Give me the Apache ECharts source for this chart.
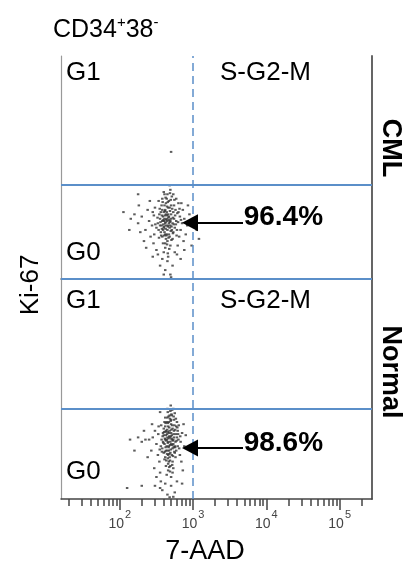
<!DOCTYPE html>
<html>
<head>
<meta charset="utf-8">
<script src="https://cdn.jsdelivr.net/npm/echarts@6/dist/echarts.min.js"></script>
<style>html,body{margin:0;padding:0;background:#fff;}#c{width:413px;height:568px;}</style>
</head>
<body>
<div id="c"></div>
<script>
// x values are log10(7-AAD), y values are Ki-67 position within each panel (0-100)
var panelNames = ['CML', 'Normal'];
var percentLabels = ['96.4%', '98.6%'];
var majorTicks = [2, 3, 4, 5];
var minorTicks = [1.301, 1.477, 1.602, 1.699, 1.778, 1.845, 1.903, 1.954,
  2.301, 2.477, 2.602, 2.699, 2.778, 2.845, 2.903, 2.954,
  3.301, 3.477, 3.602, 3.699, 3.778, 3.845, 3.903, 3.954,
  4.301, 4.477, 4.602, 4.699, 4.778, 4.845, 4.903, 4.954, 5.301];
var gateX = 3.0;
var gateY = [42.2, 40.9];
var arrowY = [25.2, 23.2];

var cmlPoints = [
[2.62,25],[2.64,27],[2.60,23],[2.66,24],[2.58,26],[2.63,29],[2.67,28],[2.61,21],[2.65,22],[2.69,26],
[2.57,24],[2.59,28],[2.68,23],[2.62,31],[2.70,29],[2.55,27],[2.64,20],[2.72,25],[2.66,32],[2.60,30],
[2.53,22],[2.71,22],[2.63,18],[2.58,19],[2.74,27],[2.56,30],[2.68,19],[2.73,30],[2.61,33],[2.67,35],
[2.52,25],[2.75,23],[2.65,17],[2.59,16],[2.70,33],[2.54,29],[2.77,26],[2.62,14],[2.69,15],[2.57,33],
[2.64,36],[2.76,31],[2.50,23],[2.72,18],[2.60,12],[2.66,10],[2.71,37],[2.58,36],[2.78,22],[2.63,24],
[2.65,26],[2.61,27],[2.67,25],[2.59,22],[2.69,24],[2.62,20],[2.64,30],[2.56,21],[2.73,21],[2.68,32],
[2.60,26],[2.66,29],[2.70,27],[2.58,31],[2.63,34],[2.55,24],[2.74,33],[2.62,16],[2.67,20],[2.65,38],
[2.635,26.5],[2.655,23.5],[2.615,28.5],[2.675,26.5],[2.595,24.5],[2.645,32.5],[2.685,30.5],[2.625,22.5],[2.705,23.5],[2.575,28.5],
[2.665,18.5],[2.715,31.5],[2.605,19.5],[2.735,24.5],[2.555,25.5],[2.695,35.5],[2.645,15.5],[2.755,28.5],[2.585,34.5],[2.625,36.5],
[2.725,20.5],[2.565,19.5],[2.675,13.5],[2.785,29.5],[2.545,31.5],[2.765,24.5],[2.615,30.5],[2.655,34.5],[2.695,21.5],[2.635,19.5],
[2.595,26.5],[2.745,35.5],[2.705,17.5],[2.575,22.5],[2.665,27.5],[2.685,25.5],[2.625,25.5],[2.645,28.5],[2.605,23.5],[2.725,27.5],
[2.515,27.5],[2.795,25.5],[2.815,31.5],[2.835,26.5],[2.485,24.5],[2.465,28.5],[2.535,18.5],[2.775,19.5],[2.655,11.5],[2.685,38.5],
[2.48,32],[2.60,39],[2.73,38],[2.80,34],[2.53,35],[2.69,40],[2.77,36],[2.45,30],
[2.82,28],[2.85,25],[2.80,30],[2.88,27],[2.83,22],[2.92,24],[2.86,31],[2.81,19],[2.95,29],[2.90,20],
[2.84,34],[2.97,25],[3.00,27],[2.87,17],[2.93,33],[2.79,15],[3.05,22],[3.08,18],[2.98,15],
[2.40,26],[2.35,22],[2.42,19],[2.30,28],[2.25,25],[2.38,31],[2.44,24],[2.33,17],[2.20,29],[2.47,20],
[2.28,21],[2.05,30],[2.15,27],[2.36,14],[2.46,16],[2.41,35],[2.26,33],[2.50,13],[2.13,22],
[2.65,8],[2.72,6],[2.58,9],[2.78,11],[2.62,4],[2.69,2],[2.75,12],[2.52,11],[2.83,9],[2.55,6],
[2.70,0.8],[2.88,13],[2.45,10],[2.60,2],
[2.70,57],[2.25,38],[2.61,38],[2.68,42]
];

var normalPoints = [
[2.66,26],[2.68,28],[2.64,24],[2.70,25],[2.62,27],[2.67,30],[2.71,29],[2.65,22],[2.69,21],[2.73,27],
[2.61,25],[2.63,31],[2.72,23],[2.66,33],[2.74,31],[2.60,29],[2.68,19],[2.76,26],[2.70,34],[2.64,35],
[2.58,23],[2.75,21],[2.67,17],[2.62,19],[2.78,28],[2.60,32],[2.72,17],[2.77,33],[2.65,37],[2.71,38],
[2.57,27],[2.79,24],[2.69,15],[2.63,15],[2.74,36],[2.59,30],[2.80,27],[2.66,13],[2.73,14],[2.61,35],
[2.68,38],[2.79,31],[2.56,24],[2.76,19],[2.64,11],[2.70,10],[2.75,39],[2.62,37],[2.81,23],[2.67,24],
[2.69,26],[2.65,28],[2.71,27],[2.63,22],[2.73,25],[2.66,20],[2.68,31],[2.60,21],[2.77,22],[2.72,32],
[2.64,27],[2.70,30],[2.74,28],[2.62,33],[2.67,35],[2.59,26],[2.78,35],[2.66,16],[2.71,20],[2.69,40],
[2.65,41],[2.73,41],[2.70,36],[2.63,29],[2.67,22],[2.75,24],[2.61,18],[2.72,12],
[2.665,27.5],[2.685,24.5],[2.645,29.5],[2.705,27.5],[2.625,23.5],[2.675,32.5],[2.715,33.5],[2.655,25.5],[2.695,22.5],[2.735,29.5],
[2.615,27.5],[2.655,34.5],[2.725,26.5],[2.665,37.5],[2.745,33.5],[2.605,30.5],[2.685,17.5],[2.765,29.5],[2.705,38.5],[2.645,20.5],
[2.595,25.5],[2.755,23.5],[2.675,14.5],[2.635,17.5],[2.785,32.5],[2.625,34.5],[2.715,15.5],[2.765,36.5],[2.655,39.5],[2.695,42.5],
[2.585,28.5],[2.775,26.5],[2.685,12.5],[2.645,31.5],[2.735,37.5],[2.615,21.5],[2.795,29.5],[2.675,20.5],[2.725,19.5],[2.635,26.5],
[2.695,35.5],[2.755,31.5],[2.575,21.5],[2.745,21.5],[2.665,23.5],[2.705,31.5],[2.675,28.5],[2.655,30.5],[2.715,24.5],[2.685,36.5],
[2.625,30.5],[2.735,23.5],[2.695,28.5],[2.655,18.5],[2.715,40.5],[2.565,33.5],[2.805,33.5],[2.825,28.5],[2.525,29.5],[2.545,22.5],
[2.83,26],[2.85,30],[2.82,20],[2.87,34],[2.84,17],[2.88,24],[2.90,29],[2.86,13],
[2.50,25],[2.45,28],[2.52,20],[2.40,27],[2.48,31],[2.54,17],[2.43,22],[2.35,27],[2.30,26],[2.25,28],
[2.14,27],[2.20,22],[2.47,14],[2.55,12],[2.38,19],[2.53,33],[2.44,34],[2.33,31],[2.56,8],[2.50,10],
[2.62,7],[2.70,6],[2.58,4],[2.75,3],[2.65,2],[2.78,8],[2.55,5],[2.48,6],[2.30,6],[2.10,5],
[2.85,7],[2.68,0.8],[2.73,1],
[2.55,39.5]
];

var XMIN = 1.198, XMAX = 5.441;
var FONT = 'Liberation Sans';
var BLUE = '#5b8fc9';

function panelMarkLine(i, withTop) {
  var data = [
    {yAxis: gateY[i], lineStyle: {color: BLUE, width: 2, type: 'solid'}},
    {xAxis: gateX, lineStyle: {color: BLUE, width: 1.5, type: [8, 5]}},
    [
      {coord: [3.681, arrowY[i]], symbol: 'none'},
      {coord: [2.958, arrowY[i]], symbol: 'triangle', symbolSize: [17, 16]}
    ]
  ];
  if (withTop) data.unshift({yAxis: 100, lineStyle: {color: BLUE, width: 2, type: 'solid'}});
  return {
    silent: true, symbol: ['none', 'none'], label: {show: false},
    lineStyle: {color: '#000', width: 2, type: 'solid'},
    itemStyle: {color: '#000'},
    emphasis: {disabled: true},
    animation: false,
    data: data
  };
}

function panelMarkPoint(i) {
  return {
    silent: true, symbol: 'circle', symbolSize: 0, animation: false,
    label: {show: true, position: 'right', distance: 0, formatter: percentLabels[i],
      fontFamily: FONT, fontWeight: 'bold', fontSize: 28, color: '#000'},
    data: [{coord: [3.69, arrowY[i] + 2.3]}]
  };
}

var chart = echarts.init(document.getElementById('c'), null, {renderer: 'canvas'});

var hiddenY = {type: 'value', min: 0, max: 100, axisTick: {show: false}, axisLabel: {show: false}, splitLine: {show: false}};

var option = {
  animation: false,
  textStyle: {fontFamily: FONT},
  grid: [
    {left: 61, top: 56, width: 311, height: 223},
    {left: 61, top: 279, width: 311, height: 220}
  ],
  xAxis: [
    {gridIndex: 0, type: 'value', min: XMIN, max: XMAX, position: 'top',
      axisLine: {show: true, lineStyle: {color: '#555', width: 1.5}},
      axisTick: {show: false}, axisLabel: {show: false}, splitLine: {show: false}},
    {gridIndex: 1, type: 'value', min: XMIN, max: XMAX, position: 'bottom',
      axisLine: {show: true, onZero: false, lineStyle: {color: '#444', width: 1.5}},
      axisTick: {show: true, customValues: majorTicks, length: 11, lineStyle: {color: '#444', width: 1.5}},
      axisLabel: {show: true, customValues: majorTicks, margin: 10, fontSize: 14,
        formatter: function (v) { return '{b|10}{s|' + Math.round(v) + '}'; },
        rich: {
          b: {fontSize: 14, color: '#444', fontFamily: FONT, lineHeight: 22, verticalAlign: 'bottom'},
          s: {fontSize: 11, color: '#444', fontFamily: FONT, lineHeight: 22, verticalAlign: 'top', padding: [0, 0, 0, 1]}
        }},
      splitLine: {show: false}},
    {gridIndex: 1, type: 'value', min: XMIN, max: XMAX, position: 'bottom',
      axisLine: {show: false, onZero: false},
      axisTick: {show: true, customValues: minorTicks, length: 7, lineStyle: {color: '#444', width: 1.5}},
      axisLabel: {show: false}, splitLine: {show: false}}
  ],
  yAxis: [
    Object.assign({gridIndex: 0, position: 'left', axisLine: {show: true, lineStyle: {color: '#999', width: 1.2}}}, hiddenY),
    Object.assign({gridIndex: 0, position: 'right', axisLine: {show: true, lineStyle: {color: '#555', width: 1.8}}}, hiddenY),
    Object.assign({gridIndex: 1, position: 'left', axisLine: {show: true, lineStyle: {color: '#999', width: 1.2}}}, hiddenY),
    Object.assign({gridIndex: 1, position: 'right', axisLine: {show: true, lineStyle: {color: '#555', width: 1.8}}}, hiddenY)
  ],
  series: [
    {type: 'scatter', name: panelNames[0], xAxisIndex: 0, yAxisIndex: 0, data: cmlPoints,
      symbol: 'rect', symbolSize: [2.5, 2], itemStyle: {color: '#333'}, silent: true,
      markLine: panelMarkLine(0, false), markPoint: panelMarkPoint(0)},
    {type: 'scatter', name: panelNames[1], xAxisIndex: 1, yAxisIndex: 2, data: normalPoints,
      symbol: 'rect', symbolSize: [2.5, 2], itemStyle: {color: '#333'}, silent: true,
      markLine: panelMarkLine(1, true), markPoint: panelMarkPoint(1)}
  ],
  graphic: [
    {type: 'text', x: 53, y: 29, style: {text: '{a|CD34}{s|+}{a|38}{s|-}', verticalAlign: 'middle', fill: '#000',
      rich: {a: {fontSize: 25, fontFamily: FONT, lineHeight: 28, verticalAlign: 'bottom'},
             s: {fontSize: 15, fontFamily: FONT, lineHeight: 28, verticalAlign: 'top'}}}},
    {type: 'text', x: 66, y: 73, style: {text: 'G1', fontSize: 26, fontFamily: FONT, fill: '#000', verticalAlign: 'middle'}},
    {type: 'text', x: 220, y: 73, style: {text: 'S-G2-M', fontSize: 26, fontFamily: FONT, fill: '#000', verticalAlign: 'middle'}},
    {type: 'text', x: 66, y: 253, style: {text: 'G0', fontSize: 26, fontFamily: FONT, fill: '#000', verticalAlign: 'middle'}},
    {type: 'text', x: 66, y: 301, style: {text: 'G1', fontSize: 26, fontFamily: FONT, fill: '#000', verticalAlign: 'middle'}},
    {type: 'text', x: 220, y: 301, style: {text: 'S-G2-M', fontSize: 26, fontFamily: FONT, fill: '#000', verticalAlign: 'middle'}},
    {type: 'text', x: 66, y: 472, style: {text: 'G0', fontSize: 26, fontFamily: FONT, fill: '#000', verticalAlign: 'middle'}},
    {type: 'text', x: 31, y: 285, rotation: Math.PI / 2, style: {text: 'Ki-67', fontSize: 26, fontFamily: FONT, fill: '#000', align: 'center', verticalAlign: 'middle'}},
    {type: 'text', x: 205, y: 552, style: {text: '7-AAD', fontSize: 27, fontFamily: FONT, fill: '#000', align: 'center', verticalAlign: 'middle'}},
    {type: 'text', x: 390, y: 148, rotation: -Math.PI / 2, style: {text: panelNames[0], fontSize: 27, fontWeight: 'bold', fontFamily: FONT, fill: '#000', align: 'center', verticalAlign: 'middle'}},
    {type: 'text', x: 390, y: 372, rotation: -Math.PI / 2, style: {text: panelNames[1], fontSize: 27, fontWeight: 'bold', fontFamily: FONT, fill: '#000', align: 'center', verticalAlign: 'middle'}}
  ]
};
chart.setOption(option);
</script>
</body>
</html>
